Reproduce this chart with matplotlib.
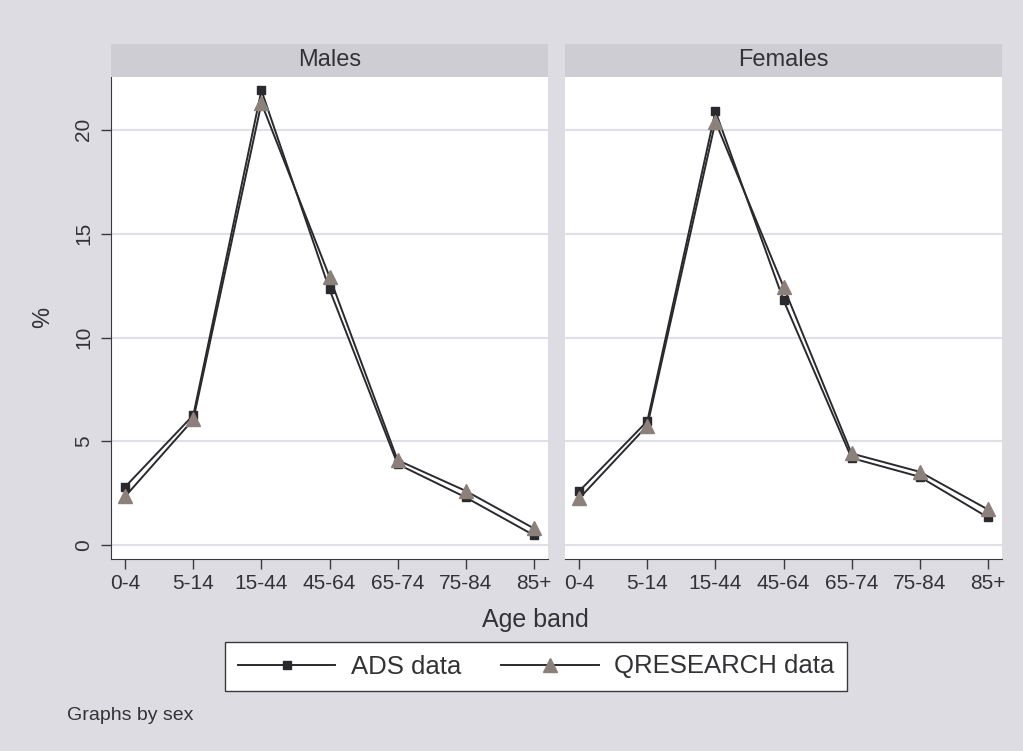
import matplotlib
matplotlib.use('Agg')
import matplotlib.pyplot as plt
from matplotlib.lines import Line2D

plt.rcParams['font.family'] = ['Liberation Sans', 'DejaVu Sans']

age_bands = ['0-4', '5-14', '15-44', '45-64', '65-74', '75-84', '85+']
panels = ['Males', 'Females']

# % of population per age band
ads_males = [2.82, 6.27, 21.9, 12.32, 3.91, 2.31, 0.49]
qres_males = [2.36, 6.06, 21.29, 12.93, 4.10, 2.62, 0.82]
ads_females = [2.61, 5.98, 20.9, 11.8, 4.2, 3.3, 1.35]
qres_females = [2.26, 5.76, 20.4, 12.45, 4.42, 3.54, 1.73]

series = {
    'Males': (ads_males, qres_males),
    'Females': (ads_females, qres_females),
}

W, H = 1023, 751
bg = '#dcdce2'
strip_col = '#cdcdd3'
line_col = '#2a2a2e'
tri_col = '#8c807b'
grid_col = '#dfdfe5'
axis_col = '#3a3a3e'
text_col = '#333336'

fig = plt.figure(figsize=(W / 100, H / 100), dpi=100, facecolor=bg)

lefts = [111, 565]
top, bottom = 76.7, 558.7
width = 437
x = list(range(len(age_bands)))

for i, name in enumerate(panels):
    ax = fig.add_axes([lefts[i] / W, (H - bottom) / H, width / W, (bottom - top) / H])
    ax.set_facecolor('white')
    ads, qres = series[name]
    ax.plot(x, ads, color=line_col, lw=1.4, marker='s', ms=6,
            mfc=line_col, mec=line_col, zorder=3)
    ax.plot(x, qres, color=line_col, lw=1.4, marker='^', ms=10.5,
            mfc=tri_col, mec=tri_col, zorder=4)
    ax.set_xlim(-0.21, 6.21)
    ax.set_ylim(-0.645, 22.56)
    ax.set_yticks([0, 5, 10, 15, 20])
    ax.yaxis.grid(True, color=grid_col, lw=1.5)
    ax.set_axisbelow(True)
    ax.set_xticks(x)
    ax.set_xticklabels(age_bands, fontsize=15, color=text_col)
    ax.tick_params(axis='x', length=7, width=1, color=axis_col, pad=4)
    for s in ['top', 'right']:
        ax.spines[s].set_visible(False)
    ax.spines['bottom'].set_color(axis_col)
    if i == 0:
        ax.spines['left'].set_color(axis_col)
        ax.set_yticklabels(['0', '5', '10', '15', '20'], rotation=90,
                           va='center', fontsize=15, color=text_col)
        ax.tick_params(axis='y', length=7, width=1, color=axis_col, pad=6)
        ax.set_ylabel('%', fontsize=17, color=text_col, labelpad=14)
    else:
        ax.spines['left'].set_visible(False)
        ax.tick_params(axis='y', length=0, labelleft=False)

    # panel strip
    sax = fig.add_axes([lefts[i] / W, (H - top) / H, width / W, (top - 44) / H])
    sax.set_facecolor(strip_col)
    sax.set_xticks([])
    sax.set_yticks([])
    for s in sax.spines.values():
        s.set_visible(False)
    sax.text(0.5, 0.5, name, ha='center', va='center', fontsize=17,
             color=text_col, transform=sax.transAxes)

fig.text(535 / W, 1 - 620 / H, 'Age band', ha='center', va='center',
         fontsize=18, color=text_col)

handles = [
    Line2D([], [], color=line_col, lw=1.4, marker='s', ms=6,
           mfc=line_col, mec=line_col),
    Line2D([], [], color=line_col, lw=1.4, marker='^', ms=10.5,
           mfc=tri_col, mec=tri_col),
]
leg = fig.legend(handles, ['ADS data', 'QRESEARCH data'], loc='center',
                 bbox_to_anchor=(536 / W, 1 - 666.5 / H), ncol=2,
                 fontsize=18.5, frameon=True, fancybox=False,
                 handlelength=3.8, handletextpad=0.6, columnspacing=1.55,
                 borderpad=0.48, borderaxespad=0)
leg.get_frame().set_edgecolor(axis_col)
leg.get_frame().set_linewidth(1)
leg.get_frame().set_facecolor('white')
leg.get_frame().set_alpha(1)
for t in leg.get_texts():
    t.set_color(text_col)

fig.text(67 / W, 1 - 715 / H, 'Graphs by sex', ha='left', va='center',
         fontsize=14, color=text_col)

fig.savefig('out.png', dpi=100, facecolor=bg)
